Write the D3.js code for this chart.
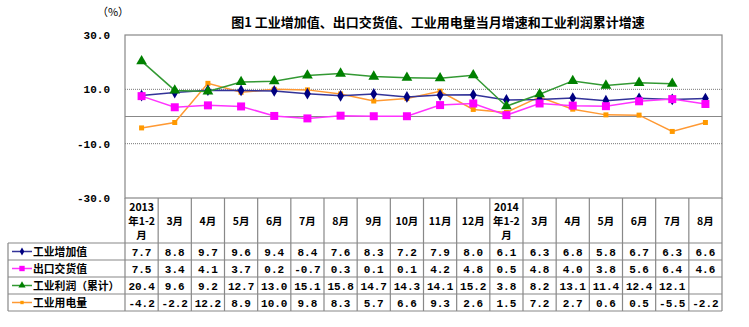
<!DOCTYPE html>
<html><head><meta charset="utf-8">
<script src="https://cdn.jsdelivr.net/npm/d3@7"></script>
<style>body{margin:0;background:#fff}svg{display:block}</style>
</head><body>
<script>
const categories = [["2013","年1-2","月"],["3月"],["4月"],["5月"],["6月"],["7月"],["8月"],["9月"],["10月"],["11月"],["12月"],["2014","年1-2","月"],["3月"],["4月"],["5月"],["6月"],["7月"],["8月"]];
const seriesNames = ["工业增加值","出口交货值","工业利润（累计）","工业用电量"];
const ivaValues = [7.7,8.8,9.7,9.6,9.4,8.4,7.6,8.3,7.2,7.9,8.0,6.1,6.3,6.8,5.8,6.7,6.3,6.6];
const exportValues = [7.5,3.4,4.1,3.7,0.2,-0.7,0.3,0.1,0.1,4.2,4.8,0.5,4.8,4.0,3.8,5.6,6.4,4.6];
const profitValues = [20.4,9.6,9.2,12.7,13.0,15.1,15.8,14.7,14.3,14.1,15.2,3.8,8.2,13.1,11.4,12.4,12.1,null];
const powerValues = [-4.2,-2.2,12.2,8.9,10.0,9.8,8.3,5.7,6.6,9.3,2.6,1.5,7.2,2.7,0.6,0.5,-5.5,-2.2];
const yTicks = [-30,-10,10,30];
const titleText = "图1 工业增加值、出口交货值、工业用电量当月增速和工业利润累计增速";
const unitText = "（%）";

(function(){
const series = [
  {name: seriesNames[0], values: ivaValues, line: "#333399", fill: "#000080", shape: "diamond", size: 40},
  {name: seriesNames[1], values: exportValues, line: "#FF33FF", fill: "#FF00FF", shape: "square", size: 64},
  {name: seriesNames[2], values: profitValues, line: "#339933", fill: "#008000", shape: "triangle", size: 50},
  {name: seriesNames[3], values: powerValues, line: "#FF9933", fill: "#FF9900", shape: "square", size: 25}
];

const W = 749, H = 327;
const pLeft = 125, pRight = 722, pTop = 35, pBottom = 198;
const tableLeft = 8, catRowBottom = 243, rowH = 17;
const cnFont = "'Noto Sans CJK SC', sans-serif";
const numFont = "'Liberation Mono', 'DejaVu Sans Mono', monospace";

const svg = d3.select("body").append("svg").attr("width", W).attr("height", H);

const x = d3.scaleBand().domain(d3.range(categories.length)).range([pLeft, pRight]);
const y = d3.scaleLinear().domain([-30, 30]).range([pBottom, pTop]);

svg.append("text").attr("x", 438).attr("y", 27).attr("text-anchor", "middle")
  .attr("font-family", cnFont).attr("font-size", 13).attr("font-weight", "bold")
  .attr("fill", "#000").text(titleText);
svg.append("text").attr("x", 113).attr("y", 16).attr("text-anchor", "middle")
  .attr("font-family", cnFont).attr("font-size", 11).attr("fill", "#000").text(unitText);

const gridVals = yTicks.filter(v => v > -30 && v < 30);
svg.append("g").selectAll("line").data(gridVals).join("line")
  .attr("x1", pLeft).attr("x2", pRight).attr("y1", d => y(d)).attr("y2", d => y(d))
  .attr("stroke", "#777").attr("stroke-width", 1).attr("stroke-dasharray", "1,1");
svg.append("line").attr("x1", pLeft).attr("x2", pRight).attr("y1", y(0)).attr("y2", y(0))
  .attr("stroke", "#888").attr("stroke-width", 1.2);

const fmt = v => d3.format(".1f")(v).replace("−", "-");
const yAxis = d3.axisLeft(y).tickValues(yTicks).tickSize(0).tickPadding(15).tickFormat(fmt);
const ya = svg.append("g").attr("transform", `translate(${pLeft},0)`).call(yAxis);
ya.select(".domain").remove();
ya.selectAll("text").attr("font-family", numFont).attr("font-size", 11).attr("font-weight", "bold").attr("fill", "#000");

svg.append("rect").attr("x", pLeft).attr("y", pTop).attr("width", pRight - pLeft).attr("height", pBottom - pTop)
  .attr("fill", "none").attr("stroke", "#888").attr("stroke-width", 1.2);

const tableBottom = catRowBottom + rowH * series.length;
const tg = svg.append("g");
const vlines = d3.range(categories.length + 1).map(i => i < categories.length ? x(i) : pRight);
tg.selectAll("line.v").data(vlines).join("line").attr("class", "v")
  .attr("x1", d => d).attr("x2", d => d).attr("y1", pBottom).attr("y2", tableBottom)
  .attr("stroke", "#888").attr("stroke-width", 1.2);
tg.append("line").attr("x1", tableLeft).attr("x2", tableLeft).attr("y1", catRowBottom).attr("y2", tableBottom)
  .attr("stroke", "#888").attr("stroke-width", 1.2);
tg.selectAll("line.h").data(d3.range(series.length + 1)).join("line").attr("class", "h")
  .attr("x1", tableLeft).attr("x2", pRight)
  .attr("y1", i => catRowBottom + i * rowH).attr("y2", i => catRowBottom + i * rowH)
  .attr("stroke", "#888").attr("stroke-width", 1.2);

categories.forEach((c, i) => {
  const cx = x(i) + x.bandwidth() / 2;
  const lineH = 14;
  const cy = (pBottom + catRowBottom) / 2;
  c.forEach((t, j) => {
    svg.append("text").attr("x", cx).attr("y", cy + (j - (c.length - 1) / 2) * lineH + 4)
      .attr("text-anchor", "middle").attr("font-family", cnFont).attr("font-size", 10.5)
      .attr("font-weight", "bold").attr("fill", "#000").text(t);
  });
});

const symType = {diamond: d3.symbolDiamond, square: d3.symbolSquare, triangle: d3.symbolTriangle};

series.forEach((s, r) => {
  const ry = catRowBottom + r * rowH + rowH / 2;
  svg.append("line").attr("x1", 12).attr("x2", 32).attr("y1", ry).attr("y2", ry)
    .attr("stroke", s.line).attr("stroke-width", 1.5);
  svg.append("path").attr("d", d3.symbol().type(symType[s.shape]).size(s.size * 0.45)())
    .attr("transform", `translate(22,${ry})`).attr("fill", s.fill);
  svg.append("text").attr("x", 33).attr("y", ry + 4).attr("font-family", cnFont)
    .attr("font-size", 10.8).attr("font-weight", "bold").attr("fill", "#000").text(s.name);
  s.values.forEach((v, i) => {
    if (v === null) return;
    svg.append("text").attr("x", x(i) + x.bandwidth() / 2).attr("y", ry + 4)
      .attr("text-anchor", "middle").attr("font-family", numFont).attr("font-size", 11)
      .attr("font-weight", "bold").attr("fill", "#000").text(fmt(v));
  });
});

const cx = i => x(i) + x.bandwidth() / 2;
const order = [3, 0, 2, 1];
order.forEach(k => {
  const s = series[k];
  const line = d3.line().defined(d => d !== null).x((d, i) => cx(i)).y(d => y(d));
  svg.append("path").datum(s.values).attr("d", line).attr("fill", "none")
    .attr("stroke", s.line).attr("stroke-width", 1.5);
});
order.forEach(k => {
  const s = series[k];
  svg.append("g").selectAll("path").data(s.values.map((v, i) => ({v, i})).filter(d => d.v !== null))
    .join("path").attr("d", d3.symbol().type(symType[s.shape]).size(s.size)())
    .attr("transform", d => `translate(${cx(d.i)},${y(d.v)})`).attr("fill", s.fill);
});
})();
</script>
</body></html>
